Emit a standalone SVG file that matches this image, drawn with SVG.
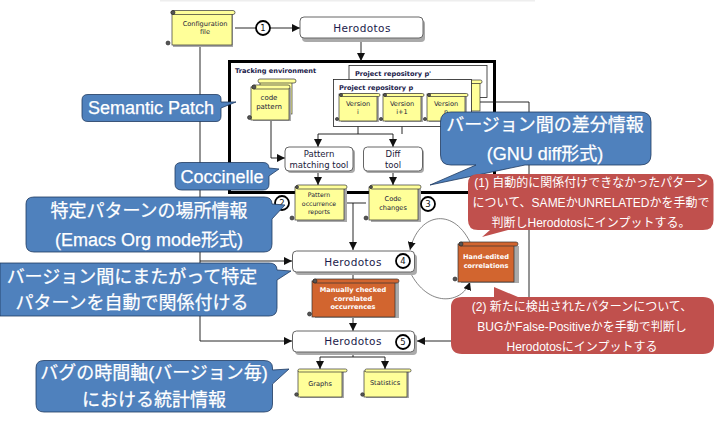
<svg xmlns="http://www.w3.org/2000/svg" width="714" height="435" viewBox="0 0 714 435">
<style>
text{font-family:"DejaVu Sans","Noto Sans CJK JP",sans-serif;text-anchor:middle}
.s{font-size:6.6px;fill:#1a1a3a}
.sw{font-size:6.6px;fill:#fff;font-weight:bold}
.t{font-size:8.5px;fill:#1a1a3a}
.h{font-size:10.5px;fill:#1a1a4a;letter-spacing:.4px}
.b{font-size:6.6px;font-weight:bold;fill:#1a1a4a;text-anchor:start}
.n{font-size:8.5px;fill:#111}
.cb{font-family:"Liberation Sans","Noto Sans CJK JP",sans-serif;font-size:18px;fill:#fff;stroke:#fff;stroke-width:.25}
.cr{font-family:"Liberation Sans","Noto Sans CJK JP",sans-serif;font-size:12px;fill:#fff}
.y{fill:#ffff99;stroke:#333;stroke-width:.7}
.o{fill:#d2652f;stroke:#333;stroke-width:.7}
.sh{fill:#aaa}
.d{fill:#555;stroke:#222;stroke-width:.6}
.box{fill:#fff;stroke:#666;stroke-width:1}
.rep{fill:#fff;stroke:#222;stroke-width:.8}
.c{fill:#fff;stroke:#000;stroke-width:1.8}
.l{fill:none;stroke:#111;stroke-width:.9}
.a{fill:none;stroke:#666;stroke-width:.8}
.blue{fill:#4f81bd;stroke:#1f3a5f;stroke-width:.8}
.red{fill:#c0504d}
</style>
<defs>
<marker id="ah" markerUnits="userSpaceOnUse" markerWidth="9" markerHeight="8" refX="8" refY="4" orient="auto"><path d="M0 0L8 4L0 8Z" fill="#111"/></marker>
</defs>
<rect width="714" height="435" fill="#fff"/>
<rect x="160" y="0" width="375" height="1.5" fill="#eee"/>

<g id="tracking-environment">
<rect x="229.500" y="61.500" width="265" height="131" fill="#fff" stroke="#000" stroke-width="3"/>
<text class="b" x="235" y="73">Tracking environment</text>
</g>

<g id="connectors">
<path class="l" d="M200 46V341" />
<path class="l" d="M235 28H300" marker-end="url(#ah)"/>
<path class="l" d="M361 38V61" marker-end="url(#ah)"/>
<path class="l" d="M200 261H292" marker-end="url(#ah)"/>
<path class="l" d="M200 341H292" marker-end="url(#ah)"/>
<path class="l" d="M271 120V158H285" marker-end="url(#ah)"/>
<path class="l" d="M358 121V134M402 121V134"/>
<path class="l" d="M358 134H318V147" marker-end="url(#ah)"/>
<path class="l" d="M358 134H393V147" marker-end="url(#ah)"/>
<path class="l" d="M318 171V185" marker-end="url(#ah)"/>
<path class="l" d="M393 171V185" marker-end="url(#ah)"/>
<path class="l" d="M345 203H366M353 203V250" marker-end="url(#ah)"/>
<path class="l" d="M353 272V279"/>
<path class="l" d="M353 317V331" marker-end="url(#ah)"/>
<path class="l" d="M353 352V357M320 357H385"/>
<path class="l" d="M320 357V369" marker-end="url(#ah)"/>
<path class="l" d="M385 357V369" marker-end="url(#ah)"/>
<path class="l" d="M472 102H529V341H417" marker-end="url(#ah)"/>
<path class="a" d="M470 242C452 206 418 214 410 250" marker-end="url(#ah)"/>
<path class="a" d="M410 272C428 308 462 304 470 282" marker-end="url(#ah)"/>
</g>

<g id="n-config">
<rect class="sh" x="173" y="14" width="60" height="33"/>
<rect class="y" x="172" y="12" width="60" height="33"/>
<rect class="y" x="171" y="10.500" width="64" height="4" rx="2"/>
<circle class="d" cx="173" cy="12.500" r="2"/><circle class="d" cx="168" cy="43" r="2"/>
<text class="s"><tspan x="205" y="26">Configuration</tspan><tspan x="205" y="34">file</tspan></text>
</g>

<g id="n-herodotos-1">
<rect class="sh" x="302" y="20" width="123" height="22" rx="4"/>
<rect class="box" x="300" y="17" width="123" height="21" rx="4"/>
<text class="h" x="362" y="32">Herodotos</text>
</g>

<g id="n-step1"><circle class="c" cx="263" cy="28" r="7"/><text class="n" x="263" y="31">1</text></g>

<g id="n-repo-pp">
<rect class="rep" x="349" y="65.500" width="138" height="32"/>
<text class="b" x="355" y="76">Project repository p'</text>
<rect class="y" x="448" y="83" width="32" height="28"/>
<rect class="y" x="446" y="80" width="36" height="3.500" rx="1.700"/>
</g>

<g id="n-repo-p">
<rect class="rep" x="333.500" y="79.500" width="138" height="47"/>
<text class="b" x="339" y="90">Project repository p</text>
</g>

<g id="n-version-i">
<rect class="sh" x="341" y="96" width="38" height="26"/>
<rect class="y" x="339" y="94" width="38" height="27"/>
<rect class="y" x="340" y="93.500" width="40" height="3" rx="1.500"/>
<circle class="d" cx="341" cy="95" r="1.600"/><circle class="d" cx="337" cy="119" r="1.600"/>
<text class="s"><tspan x="358" y="106">Version</tspan><tspan x="358" y="114">i</tspan></text>
</g>
<g id="n-version-i1">
<rect class="sh" x="385" y="96" width="38" height="26"/>
<rect class="y" x="383" y="94" width="38" height="27"/>
<rect class="y" x="384" y="93.500" width="40" height="3" rx="1.500"/>
<circle class="d" cx="385" cy="95" r="1.600"/><circle class="d" cx="381" cy="119" r="1.600"/>
<text class="s"><tspan x="402" y="106">Version</tspan><tspan x="402" y="114">i+1</tspan></text>
</g>
<g id="n-version-n">
<rect class="sh" x="429" y="96" width="38" height="26"/>
<rect class="y" x="427" y="94" width="38" height="27"/>
<rect class="y" x="428" y="93.500" width="40" height="3" rx="1.500"/>
<circle class="d" cx="429" cy="95" r="1.600"/><circle class="d" cx="425" cy="119" r="1.600"/>
<text class="s"><tspan x="446" y="106">Version</tspan><tspan x="446" y="114">n</tspan></text>
</g>

<g id="n-code-pattern">
<rect class="y" x="260" y="81" width="32" height="33"/>
<rect class="y" x="258" y="79" width="38" height="4" rx="2"/>
<rect class="sh" x="253" y="88" width="38" height="33"/>
<rect class="y" x="251" y="87" width="38" height="33"/>
<rect class="y" x="252" y="85" width="38" height="4" rx="2"/>
<circle class="d" cx="254" cy="87" r="2"/><circle class="d" cx="249.500" cy="117.500" r="2"/>
<text class="s" style="font-size:7px"><tspan x="269" y="100">code</tspan><tspan x="269" y="109">pattern</tspan></text>
</g>

<g id="n-pattern-tool">
<rect class="sh" x="287" y="149" width="68" height="24" rx="4"/>
<rect class="box" x="285" y="147" width="68" height="24" rx="4"/>
<text class="t"><tspan x="319" y="157">Pattern</tspan><tspan x="319" y="168">matching tool</tspan></text>
</g>
<g id="n-diff-tool">
<rect class="sh" x="365" y="149" width="59" height="24" rx="4"/>
<rect class="box" x="363.500" y="147" width="59" height="24" rx="4"/>
<text class="t"><tspan x="393" y="157">Diff</tspan><tspan x="393" y="168">tool</tspan></text>
</g>

<g id="n-occurrence">
<rect class="sh" x="297" y="189" width="50" height="33"/>
<rect class="y" x="295" y="187" width="49" height="33"/>
<rect class="y" x="296" y="185" width="51" height="4" rx="2"/>
<circle class="d" cx="297" cy="187" r="1.500"/><circle class="d" cx="292" cy="218" r="2"/>
<text class="s" style="font-size:6.2px"><tspan x="319" y="197">Pattern</tspan><tspan x="319" y="205.500">occurrence</tspan><tspan x="319" y="214">reports</tspan></text>
</g>
<g id="n-code-changes">
<rect class="sh" x="371" y="189" width="50" height="33"/>
<rect class="y" x="369" y="187" width="49" height="33"/>
<rect class="y" x="370" y="185" width="51" height="4" rx="2"/>
<circle class="d" cx="371" cy="187" r="1.500"/><circle class="d" cx="366" cy="218" r="2"/>
<text class="s"><tspan x="393" y="201">Code</tspan><tspan x="393" y="209.500">changes</tspan></text>
</g>
<g id="n-step2"><circle class="c" cx="282" cy="203" r="7"/><text class="n" x="282" y="206">2</text></g>
<g id="n-step3"><circle class="c" cx="428" cy="204" r="7"/><text class="n" x="428" y="207">3</text></g>

<g id="n-herodotos-4">
<rect class="sh" x="295" y="254" width="122" height="21" rx="4"/>
<rect class="box" x="292.500" y="251" width="122" height="21" rx="4"/>
<text class="h" x="353" y="266">Herodotos</text>
<circle class="c" cx="403" cy="261" r="7"/><text class="n" x="403" y="264">4</text>
</g>

<g id="n-manual">
<rect class="sh" x="315" y="283" width="84" height="35"/>
<rect class="o" x="312" y="281" width="83" height="36"/>
<rect class="o" x="313" y="279" width="86" height="4" rx="2"/>
<circle class="d" cx="315" cy="281" r="2"/><circle class="d" cx="309.500" cy="314" r="2"/>
<text class="sw"><tspan x="353" y="292">Manually checked</tspan><tspan x="353" y="300.500">correlated</tspan><tspan x="353" y="309">occurrences</tspan></text>
</g>

<g id="n-hand-edited">
<rect class="sh" x="461" y="246" width="58" height="37"/>
<rect class="o" x="458" y="244" width="56" height="38"/>
<rect class="o" x="459" y="242" width="59" height="4" rx="2"/>
<circle class="d" cx="461" cy="244" r="2"/><circle class="d" cx="455" cy="279" r="2"/>
<text class="sw"><tspan x="486" y="259">Hand-edited</tspan><tspan x="486" y="268">correlations</tspan></text>
</g>

<g id="n-herodotos-5">
<rect class="sh" x="295" y="334" width="122" height="21" rx="4"/>
<rect class="box" x="292.500" y="331" width="122" height="21" rx="4"/>
<text class="h" x="353" y="345">Herodotos</text>
<circle class="c" cx="403" cy="342" r="7"/><text class="n" x="403" y="345">5</text>
</g>

<g id="n-graphs">
<rect class="sh" x="300" y="372" width="44" height="26"/>
<rect class="y" x="298" y="371" width="44" height="26"/>
<rect class="y" x="298" y="369" width="49" height="3" rx="1.500"/>
<circle class="d" cx="296.500" cy="394.500" r="1.800"/>
<text class="s" x="320" y="386">Graphs</text>
</g>
<g id="n-statistics">
<rect class="sh" x="366" y="372" width="43" height="26"/>
<rect class="y" x="364" y="371" width="43" height="26"/>
<rect class="y" x="365" y="369" width="46" height="3" rx="1.500"/>
<circle class="d" cx="362.500" cy="394.500" r="1.800"/>
<text class="s" x="385" y="385">Statistics</text>
</g>

<g id="n-callout-semantic">
<path class="blue" d="M88 94.500H216Q221 94.500 221 99V102L236 102L221 108V116Q221 121.500 216 121.500H88Q82 121.500 82 116V100Q82 94.500 88 94.500Z"/>
<text class="cb" x="151" y="114">Semantic Patch</text>
</g>
<g id="n-callout-coccinelle">
<path class="blue" d="M182 162.500H263Q269 162.500 269 168L279 169L269 176V184Q269 190 263 190H182Q175 190 175 184V168Q175 162.500 182 162.500Z"/>
<text class="cb" x="222" y="183">Coccinelle</text>
</g>
<g id="n-callout-location">
<path class="blue" d="M34 197H264Q272 197 272 204L285 205L272 219V244Q272 252 264 252H34Q26 252 26 244V204Q26 197 34 197Z"/>
<text class="cb"><tspan x="149" y="217">特定パターンの場所情報</tspan><tspan x="149" y="246">(Emacs Org mode形式)</tspan></text>
</g>
<g id="n-callout-autolink">
<path class="blue" d="M0 263H269Q277 263 277 270L291 271L277 280V308Q277 316 269 316H0Z"/>
<text class="cb"><tspan x="132" y="283">バージョン間にまたがって特定</tspan><tspan x="132" y="309">パターンを自動で関係付ける</tspan></text>
</g>
<g id="n-callout-timeline">
<path class="blue" d="M44 360.500H264Q272.500 360.500 272.500 368V370L289 369L272.500 384V404Q272.500 412 264 412H44Q36 412 36 404V368Q36 360.500 44 360.500Z"/>
<text class="cb"><tspan x="154" y="379">バグの時間軸(バージョン毎)</tspan><tspan x="154" y="406">における統計情報</tspan></text>
</g>
<g id="n-callout-diff">
<path class="blue" d="M451 112H640Q651 112 651 122V155Q651 165 640 165H525L430 185L476 165H451Q440.500 165 440.500 155V122Q440.500 112 451 112Z"/>
<text class="cb"><tspan x="545" y="131">バージョン間の差分情報</tspan><tspan x="545" y="160">(GNU diff形式)</tspan></text>
</g>
<g id="n-callout-red1">
<path class="red" d="M478 174H703Q713.500 174 713.500 184V220Q713.500 230 703 230H508L482 237L490 230H478Q468 230 468 220V184Q468 174 478 174Z"/>
<text class="cr"><tspan x="591" y="187">(1) 自動的に関係付けできなかったパターン</tspan><tspan x="591" y="207">について、SAMEかUNRELATEDかを手動で</tspan><tspan x="591" y="227">判断しHerodotosにインプットする。</tspan></text>
</g>
<g id="n-callout-red2">
<path class="red" d="M462 297H494L494 287L518 297H703Q714 297 714 307V343Q714 354 703 354H462Q451 354 451 343V307Q451 297 462 297Z"/>
<text class="cr"><tspan x="582" y="311">(2) 新たに検出されたパターンについて、</tspan><tspan x="582" y="331">BUGかFalse-Positiveかを手動で判断し</tspan><tspan x="582" y="351">Herodotosにインプットする</tspan></text>
</g>
</svg>
